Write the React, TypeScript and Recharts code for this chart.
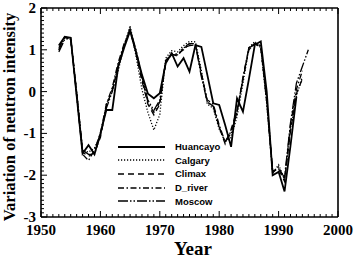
import React from "react";
import { LineChart, Line, XAxis, YAxis, Legend } from "recharts";

// page has an 8px body margin by default; the chart sits flush at 0,0
document.body.style.margin = "0";

const years = [
  1953, 1954, 1955, 1956, 1957, 1958, 1959, 1960, 1961, 1962, 1963, 1964, 1965,
  1966, 1967, 1968, 1969, 1970, 1971, 1972, 1973, 1974, 1975, 1976, 1977, 1978,
  1979, 1980, 1981, 1982, 1983, 1984, 1985, 1986, 1987, 1988, 1989, 1990, 1991,
  1992, 1993, 1994, 1995,
];

// 1953 – 1993
const huancayo = [
  1.1, 1.31, 1.29, -0.1, -1.48, -1.28, -1.5, -1.0, -0.44, -0.44, 0.6, 1.05, 1.45,
  0.95, 0.4, -0.05, -0.16, -0.04, 0.68, 0.92, 0.6, 0.8, 0.48, 1.11, 1.07, 0.4,
  -0.28, -0.32, -0.8, -1.32, -0.16, -0.48, 0.3, 1.12, 1.2, 0.0, -2.0, -1.92,
  -2.39, -1.3, -0.12,
];
// 1953 – 1994
const calgary = [
  1.0, 1.28, 1.25, 0.0, -1.4, -1.45, -1.35, -1.05, -0.3, 0.0, 0.5, 1.1, 1.58,
  0.85, 0.05, -0.5, -0.92, -0.55, 0.8, 0.98, 0.95, 1.1, 1.2, 1.19, 0.5, -0.3,
  -0.4, -0.9, -1.2, -1.1, -0.6, 0.2, 1.05, 1.2, 1.05, -0.3, -1.95, -1.75, -2.1,
  -0.9, -0.1, 0.35,
];
const climax = [
  1.05, 1.3, 1.27, -0.05, -1.45, -1.55, -1.45, -1.1, -0.35, 0.05, 0.6, 1.1, 1.5,
  0.9, 0.25, -0.3, -0.56, -0.3, 0.75, 0.9, 0.85, 1.05, 1.15, 1.12, 0.45, -0.25,
  -0.35, -0.85, -1.25, -0.9, -0.45, 0.3, 1.0, 1.15, 1.05, -0.2, -1.9, -1.85,
  -2.15, -0.95, -0.05, 0.3,
];
const dRiver = [
  1.0, 1.3, 1.28, -0.1, -1.5, -1.65, -1.4, -1.0, -0.3, 0.1, 0.7, 1.15, 1.45,
  0.95, 0.3, -0.25, -0.5, -0.25, 0.7, 0.9, 0.9, 1.0, 1.15, 1.15, 0.4, -0.2, -0.3,
  -0.8, -1.2, -0.95, -0.5, 0.35, 1.05, 1.15, 1.1, -0.25, -1.95, -1.8, -2.1, -0.8,
  0.05, 0.5,
];
// 1953 – 1995
const moscow = [
  0.95, 1.25, 1.28, 0.0, -1.4, -1.5, -1.5, -1.05, -0.4, 0.0, 0.65, 1.1, 1.5, 1.0,
  0.35, -0.2, -0.45, -0.2, 0.72, 0.88, 0.88, 1.05, 1.1, 1.12, 0.35, -0.25, -0.35,
  -0.85, -1.2, -1.0, -0.5, 0.3, 1.05, 1.12, 1.1, -0.2, -1.9, -1.85, -2.05, -0.75,
  0.2, 0.6, 1.0,
];

const xLabels = [1950, 1960, 1970, 1980, 1990, 2000];
const yLabels = [-3, -2, -1, 0, 1, 2];
const xTicks = Array.from({ length: 51 }, (_, i) => 1950 + i);
const yTicks = Array.from({ length: 51 }, (_, i) => Math.round(-30 + i) / 10);

const SERIES = [
  { key: "Huancayo", values: huancayo, dash: undefined, width: 1.8 },
  { key: "Calgary", values: calgary, dash: "1.2 1.8", width: 1.3 },
  { key: "Climax", values: climax, dash: "6 4", width: 1.3 },
  { key: "D_river", values: dRiver, dash: "6 2.5 1.5 2.5", width: 1.3 },
  { key: "Moscow", values: moscow, dash: "10 2 1.5 2 1.5 2", width: 1.3 },
];

const data = years.map((year, i) => {
  const row: Record<string, number | undefined> = { year };
  SERIES.forEach((s) => (row[s.key] = s.values[i]));
  return row;
});

const SERIF = "'Liberation Serif', 'Times New Roman', serif";
const ink = "#000";

function TickText({ x, y, anchor, children }: any) {
  return (
    <text
      x={x}
      y={y}
      textAnchor={anchor}
      fontFamily={SERIF}
      fontWeight="bold"
      fontSize={15}
      fill={ink}
    >
      {children}
    </text>
  );
}

function BottomTick({ x, y, payload }: any) {
  const major = xLabels.includes(payload.value);
  return (
    <g>
      <line x1={x} x2={x} y1={y} y2={y - (major ? 6 : 3)} stroke={ink} />
      {major && (
        <TickText x={x} y={y + 18} anchor="middle">
          {payload.value}
        </TickText>
      )}
    </g>
  );
}

function TopTick({ x, y, payload }: any) {
  const major = xLabels.includes(payload.value);
  return <line x1={x} x2={x} y1={y} y2={y + (major ? 6 : 3)} stroke={ink} />;
}

function LeftTick({ x, y, payload }: any) {
  const major = yLabels.includes(payload.value);
  return (
    <g>
      <line x1={x} x2={x + (major ? 6 : 3)} y1={y} y2={y} stroke={ink} />
      {major && (
        <TickText x={x - 5} y={y + 5} anchor="end">
          {payload.value}
        </TickText>
      )}
    </g>
  );
}

function RightTick({ x, y, payload }: any) {
  const major = yLabels.includes(payload.value);
  return <line x1={x} x2={x - (major ? 6 : 3)} y1={y} y2={y} stroke={ink} />;
}

// legend keeps the plotting order (Recharts would sort it by name)
function LegendBox() {
  return (
    <div>
      {SERIES.map((s) => (
        <div
          key={s.key}
          style={{ display: "flex", alignItems: "center", height: 13.6 }}
        >
          <svg width={47} height={6}>
            <line
              x1={0}
              x2={47}
              y1={3}
              y2={3}
              stroke={ink}
              strokeWidth={s.width}
              strokeDasharray={s.dash}
            />
          </svg>
          <span
            style={{
              marginLeft: 10,
              fontFamily: "'Liberation Sans', Arial, sans-serif",
              fontWeight: 700,
              fontSize: 9.5,
              color: "#000",
            }}
          >
            {s.key}
          </span>
        </div>
      ))}
    </div>
  );
}

const axisLine = { stroke: ink, strokeWidth: 1.6 };

export default function App() {
  return (
    <div style={{ position: "relative", width: 355, height: 259, background: "#fff" }}>
      <LineChart
        width={355}
        height={259}
        data={data}
        margin={{ top: 7, right: 16, bottom: 41, left: 40 }}
      >
        <XAxis
          dataKey="year"
          type="number"
          domain={[1950, 2000]}
          ticks={xTicks}
          interval={0}
          height={1}
          tickSize={0}
          tickMargin={0}
          tickLine={false}
          tick={<BottomTick />}
          axisLine={axisLine}
        />
        <XAxis
          xAxisId="top"
          orientation="top"
          dataKey="year"
          type="number"
          domain={[1950, 2000]}
          ticks={xTicks}
          interval={0}
          height={1}
          tickSize={0}
          tickMargin={0}
          tickLine={false}
          tick={<TopTick />}
          axisLine={axisLine}
        />
        <YAxis
          type="number"
          domain={[-3, 2]}
          ticks={yTicks}
          interval={0}
          width={1}
          tickSize={0}
          tickMargin={0}
          tickLine={false}
          tick={<LeftTick />}
          axisLine={axisLine}
        />
        <YAxis
          yAxisId="right"
          orientation="right"
          type="number"
          domain={[-3, 2]}
          ticks={yTicks}
          interval={0}
          width={1}
          tickSize={0}
          tickMargin={0}
          tickLine={false}
          tick={<RightTick />}
          axisLine={axisLine}
        />
        <Legend
          layout="vertical"
          align="center"
          verticalAlign="middle"
          content={<LegendBox />}
          wrapperStyle={{ left: 118, top: 140, width: 110, height: 70 }}
        />
        {SERIES.map((s) => (
          <Line
            key={s.key}
            type="linear"
            dataKey={s.key}
            stroke={ink}
            strokeWidth={s.width}
            strokeDasharray={s.dash}
            dot={false}
            activeDot={false}
            isAnimationActive={false}
          />
        ))}
      </LineChart>
      <div
        style={{
          position: "absolute",
          left: 0,
          width: 386,
          top: 239,
          textAlign: "center",
          lineHeight: "19px",
          fontFamily: SERIF,
          fontWeight: 700,
          fontSize: 19,
          color: "#000",
        }}
      >
        Year
      </div>
      <div
        style={{
          position: "absolute",
          left: 9,
          top: 117,
          transform: "translate(-50%, -50%) rotate(-90deg)",
          whiteSpace: "nowrap",
          lineHeight: "17px",
          fontFamily: SERIF,
          fontWeight: 700,
          fontSize: 16.5,
          color: "#000",
        }}
      >
        Variation of neutron intensity
      </div>
    </div>
  );
}
